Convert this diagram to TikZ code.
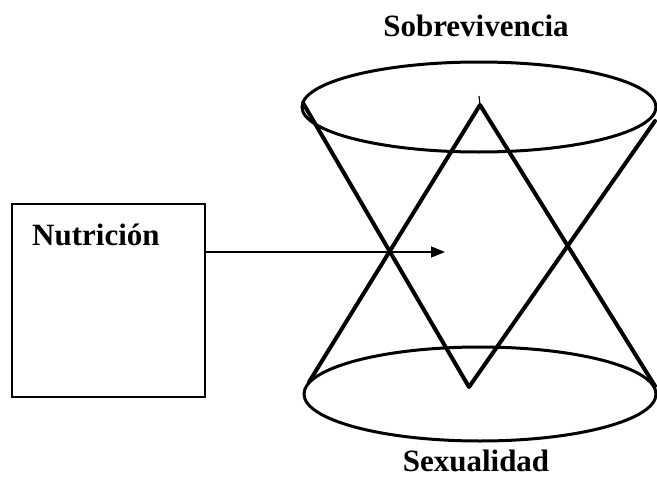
\documentclass[tikz,border=0pt]{standalone}
\usepackage{fontspec}
\setmainfont{Liberation Serif}
\usetikzlibrary{shapes.geometric,arrows.meta}
\tikzset{
  lbl/.style={font=\fontsize{31}{36}\selectfont\bfseries, inner sep=0pt},
  box/.style={draw, line width=1.8pt, minimum width=193pt, minimum height=193pt, inner sep=0pt},
  disc/.style={draw, ellipse, line width=3pt, inner sep=0pt},
  cone/.style={line width=4pt, line join=round, line cap=round},
  conn/.style={line width=1.5pt, -{Triangle[length=14pt,width=11pt]}}
}
\begin{document}
\begin{tikzpicture}[x=1pt,y=-1pt]
\useasboundingbox (0,0) rectangle (657,479);
% box
\node[box] (box) at (108.5,300.5) {};
\node[lbl, anchor=base west] (nut) at (32,245) {Nutrición};
% ellipses
\node[disc, minimum width=354pt, minimum height=90pt] (top) at (479,107) {};
\node[disc, minimum width=352pt, minimum height=94pt] (bot) at (480,394) {};
% triangle vertices
\coordinate (dl) at (303,103);
\coordinate (dr) at (655,121);
\coordinate (da) at (469,387);
\coordinate (ua) at (480,105);
\coordinate (ul) at (309,382);
\coordinate (ur) at (655,386);
\draw[cone] (dl) -- (da) -- (dr);
\draw[cone] (ul) -- (ua) -- (ur);
\coordinate (tick) at (479,96);
\draw[line width=1.2pt] (ua) -- (tick);
% labels
\node[lbl, anchor=base] (sob) at (476,37) {Sobrevivencia};
\node[lbl, anchor=base] (sex) at (476,471) {Sexualidad};
% arrow
\coordinate (aend) at (445,252);
\draw[conn] (box.east |- aend) -- (aend);
\end{tikzpicture}
\end{document}
